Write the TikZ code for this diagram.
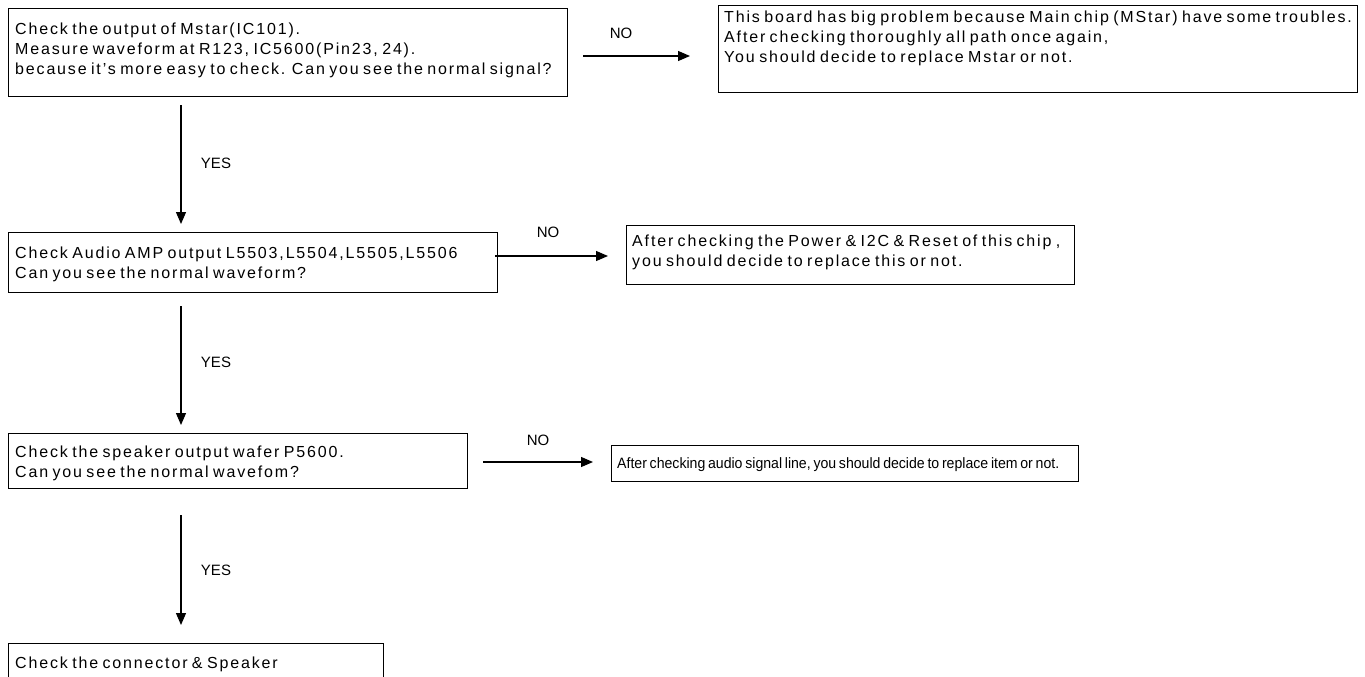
\documentclass[tikz,border=0pt]{standalone}
\usepackage{fontspec}
\setmainfont{Liberation Sans}
\newfontfamily\boxfont[WordSpace=0.7,LetterSpace=11.5]{Liberation Sans}
\newfontfamily\narrowfont[WordSpace=0.7,FakeStretch=0.94]{Liberation Sans}
\usetikzlibrary{arrows.meta}
\begin{document}
\begin{tikzpicture}[x=1pt,y=-1pt,
  box/.style={draw, line width=1pt, rectangle, inner sep=0pt, anchor=north west},
  txt/.style={inner sep=0pt, anchor=north west, align=left, font=\boxfont\fontsize{16}{20}\selectfont},
  ntxt/.style={txt, font=\narrowfont\fontsize{15}{20}\selectfont},
  lbl/.style={inner sep=0pt, font=\fontsize{15}{18}\selectfont},
  arr/.style={line width=1.2pt, -{Triangle[length=12pt,width=10pt]}}]
\useasboundingbox (0,0) rectangle (1365,677);
% boxes
\node[box, minimum width=559, minimum height=88] (b1) at (8,8) {};
\node[box, minimum width=639, minimum height=87] (b2) at (718,5) {};
\node[box, minimum width=489, minimum height=60] (b3) at (8,232) {};
\node[box, minimum width=448, minimum height=59] (b4) at (626,225) {};
\node[box, minimum width=459, minimum height=55] (b5) at (8,433) {};
\node[box, minimum width=467, minimum height=36] (b6) at (611,445) {};
\node[box, minimum width=375, minimum height=40] (b7) at (8,643) {};
% texts
\node[txt] (t1) at (15,22.5) {Check the output of Mstar(IC101).\\Measure waveform at R123, IC5600(Pin23, 24).\\because it’s more easy to check. Can you see the normal signal?};
\node[txt] (t2) at (724,10.5) {This board has big problem because Main chip (MStar) have some troubles.\\After checking thoroughly all path once again,\\You should decide to replace Mstar or not.};
\node[txt] (t3) at (15,247) {Check Audio AMP output L5503,L5504,L5505,L5506\\Can you see the normal waveform?};
\node[txt] (t4) at (632,235) {After checking the Power \& I2C \& Reset of this chip ,\\you should decide to replace this or not.};
\node[txt] (t5) at (15,445.5) {Check the speaker output wafer P5600.\\Can you see the normal wavefom?};
\node[ntxt] (t6) at (617,457.5) {After checking audio signal line, you should decide to replace item or not.};
\node[txt] (t7) at (15,656.5) {Check the connector \& Speaker};
% connector end points
\coordinate (n1s) at (583,56);  \coordinate (n1e) at (b2.west |- n1s);
\coordinate (n2s) at (495,256); \coordinate (n2e) at (b4.west |- n2s);
\coordinate (n3s) at (483,462); \coordinate (n3e) at (b6.west |- n3s);
\draw[arr, shorten >=28pt] (n1s) -- (n1e);
\draw[arr, shorten >=18pt] (n2s) -- (n2e);
\draw[arr, shorten >=18pt] (n3s) -- (n3e);
\coordinate (y1s) at (181,105); \coordinate (y1e) at (181,224);
\coordinate (y2s) at (181,306); \coordinate (y2e) at (181,425);
\coordinate (y3s) at (181,515); \coordinate (y3e) at (181,625);
\draw[arr] (y1s) -- (y1e);
\draw[arr] (y2s) -- (y2e);
\draw[arr] (y3s) -- (y3e);
% labels
\node[lbl] (no1) at (621,33) {NO};
\node[lbl] (no2) at (548,232) {NO};
\node[lbl] (no3) at (538,440) {NO};
\node[lbl] (yes1) at (216,163) {YES};
\node[lbl] (yes2) at (216,362) {YES};
\node[lbl] (yes3) at (216,570) {YES};
\end{tikzpicture}
\end{document}
